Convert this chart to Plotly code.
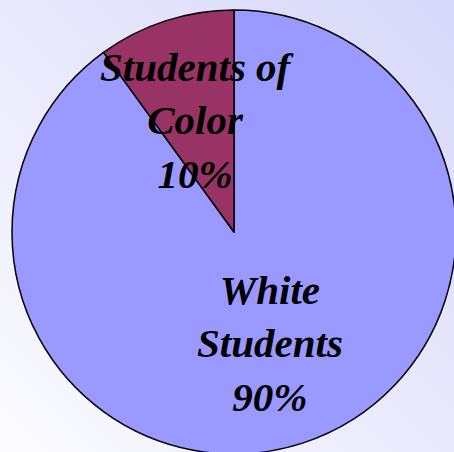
import math
import plotly.graph_objects as go

labels = ["White<br>Students", "Students of<br>Color"]
values = [90, 10]
colors = ["#9999ff", "#993366"]

bg_svg = (
    "data:image/svg+xml;utf8,"
    "<svg xmlns='http://www.w3.org/2000/svg' width='456' height='454'>"
    "<defs><linearGradient id='g' x1='1' y1='0' x2='0' y2='1'>"
    "<stop offset='0' stop-color='%23d6d6fa'/>"
    "<stop offset='1' stop-color='%23fcfcff'/>"
    "</linearGradient></defs>"
    "<rect width='456' height='454' fill='url(%23g)'/></svg>"
)

# figure slightly larger than the window so the pie is cropped like the reference
W, H = 456, 454
ML, MR, MT, MB = 12, 0, 10, 0
pw, ph = W - ML - MR, H - MT - MB
R = min(pw, ph) / 2
label_frac = 0.53

fig = go.Figure(
    go.Pie(
        labels=labels,
        values=values,
        sort=False,
        direction="clockwise",
        rotation=0,
        marker=dict(colors=colors, line=dict(color="black", width=1.5)),
        textinfo="none",
        hoverinfo="none",
        showlegend=False,
    )
)

# labels placed along each slice's mid-angle, computed from the data
total = sum(values)
cum = 0
annotations = []
for lab, v in zip(labels, values):
    mid = (cum + v / 2) / total * 2 * math.pi
    cum += v
    dx = label_frac * R * math.sin(mid)
    dy = label_frac * R * math.cos(mid)
    annotations.append(dict(
        text=f"{lab}<br>{round(v / total * 100)}%",
        xref="paper", yref="paper",
        x=0.5 + dx / pw, y=0.5 + dy / ph,
        xanchor="center", yanchor="middle",
        showarrow=False, align="center",
        font=dict(family="Liberation Serif", size=41, color="black",
                  style="italic", weight="bold"),
    ))

fig.update_layout(
    width=W,
    height=H,
    margin=dict(l=ML, r=MR, t=MT, b=MB),
    paper_bgcolor="#e8e8fc",
    plot_bgcolor="rgba(0,0,0,0)",
    annotations=annotations,
    images=[dict(source=bg_svg, xref="paper", yref="paper", x=-0.03, y=1.03,
                 sizex=1.06, sizey=1.06, sizing="stretch", layer="below",
                 xanchor="left", yanchor="top")],
)

fig.write_html(
    "out.html",
    config={"displayModeBar": False},
    post_script="document.body.style.margin='0';document.body.style.overflow='hidden';",
)
